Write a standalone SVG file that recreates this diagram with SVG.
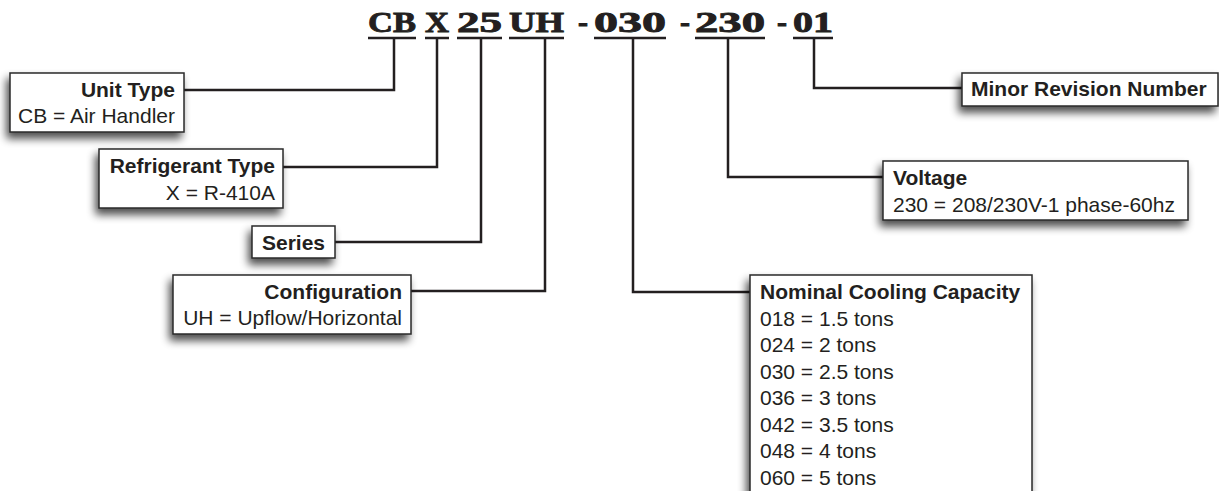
<svg xmlns="http://www.w3.org/2000/svg" width="1219" height="491" viewBox="0 0 1219 491">
<style>
.box{fill:#fff;stroke:#2a2a2a;stroke-width:1.5;filter:url(#sh)}
.t{font-family:"Liberation Sans",Arial,sans-serif;font-size:21px;fill:#231f20}
.b{font-weight:bold}
.r{text-anchor:end}
.code{font-family:"Liberation Serif","Times New Roman",serif;font-weight:bold;font-size:30px;fill:#231f20;stroke:#231f20;stroke-width:0.9}
.ul{stroke:#231f20;stroke-width:2.5}
.cn{fill:none;stroke:#231f20;stroke-width:2.5}
</style>
<defs>
<filter id="sh" x="-20%" y="-30%" width="140%" height="180%">
<feGaussianBlur in="SourceAlpha" stdDeviation="4"/>
<feOffset dx="-3" dy="6" result="o"/>
<feComponentTransfer><feFuncA type="linear" slope="0.7"/></feComponentTransfer>
<feMerge><feMergeNode/><feMergeNode in="SourceGraphic"/></feMerge>
</filter>
</defs>
<rect width="1219" height="491" fill="#fff"/>
<g id="code">
<text class="code" x="368" y="32" textLength="48" lengthAdjust="spacingAndGlyphs">CB</text>
<text class="code" x="425" y="32" textLength="24" lengthAdjust="spacingAndGlyphs">X</text>
<text class="code" x="457" y="32" textLength="45" lengthAdjust="spacingAndGlyphs">25</text>
<text class="code" x="509" y="32" textLength="55" lengthAdjust="spacingAndGlyphs">UH</text>
<text class="code" x="578" y="32" textLength="10" lengthAdjust="spacingAndGlyphs">-</text>
<text class="code" x="594" y="32" textLength="72" lengthAdjust="spacingAndGlyphs">030</text>
<text class="code" x="680" y="32" textLength="10" lengthAdjust="spacingAndGlyphs">-</text>
<text class="code" x="695" y="32" textLength="70" lengthAdjust="spacingAndGlyphs">230</text>
<text class="code" x="777" y="32" textLength="10" lengthAdjust="spacingAndGlyphs">-</text>
<text class="code" x="793" y="32" textLength="40" lengthAdjust="spacingAndGlyphs">01</text>
<line class="ul" x1="368" y1="38" x2="416" y2="38"/>
<line class="ul" x1="425" y1="38" x2="449" y2="38"/>
<line class="ul" x1="457" y1="38" x2="502" y2="38"/>
<line class="ul" x1="509" y1="38" x2="564" y2="38"/>
<line class="ul" x1="594" y1="38" x2="666" y2="38"/>
<line class="ul" x1="695" y1="38" x2="765" y2="38"/>
<line class="ul" x1="793" y1="38" x2="833" y2="38"/>
</g>
<g id="connectors">
<polyline class="cn" points="394,38 394,90 184,90"/>
<polyline class="cn" points="437,38 437,167 283,167"/>
<polyline class="cn" points="481,38 481,242 335,242"/>
<polyline class="cn" points="545,38 545,291 411,291"/>
<polyline class="cn" points="633,38 633,292 750,292"/>
<polyline class="cn" points="728,38 728,177 883,177"/>
<polyline class="cn" points="814,38 814,88 962,88"/>
</g>
<g id="unit-type">
<rect class="box" x="10" y="73" width="174" height="59"/>
<text class="t b r" x="175" y="97">Unit Type</text>
<text class="t r" x="175" y="123">CB = Air Handler</text>
</g>
<g id="refrigerant-type">
<rect class="box" x="99" y="149" width="184" height="59"/>
<text class="t b r" x="275" y="173">Refrigerant Type</text>
<text class="t r" x="275" y="200">X = R-410A</text>
</g>
<g id="series">
<rect class="box" x="252" y="226" width="83" height="32"/>
<text class="t b" x="262" y="250">Series</text>
</g>
<g id="configuration">
<rect class="box" x="173" y="275" width="238" height="59"/>
<text class="t b r" x="402" y="299">Configuration</text>
<text class="t r" x="402" y="325">UH = Upflow/Horizontal</text>
</g>
<g id="nominal-cooling-capacity">
<rect class="box" x="750" y="275" width="282" height="240"/>
<text class="t b" x="760" y="299">Nominal Cooling Capacity</text>
<text class="t" x="760" y="326">018 = 1.5 tons</text>
<text class="t" x="760" y="352">024 = 2 tons</text>
<text class="t" x="760" y="379">030 = 2.5 tons</text>
<text class="t" x="760" y="405">036 = 3 tons</text>
<text class="t" x="760" y="432">042 = 3.5 tons</text>
<text class="t" x="760" y="458">048 = 4 tons</text>
<text class="t" x="760" y="485">060 = 5 tons</text>
</g>
<g id="voltage">
<rect class="box" x="883" y="161" width="305" height="59"/>
<text class="t b" x="893" y="185">Voltage</text>
<text class="t" x="893" y="212">230 = 208/230V-1 phase-60hz</text>
</g>
<g id="minor-revision-number">
<rect class="box" x="962" y="73" width="256" height="33"/>
<text class="t b" x="971" y="96">Minor Revision Number</text>
</g>
</svg>
